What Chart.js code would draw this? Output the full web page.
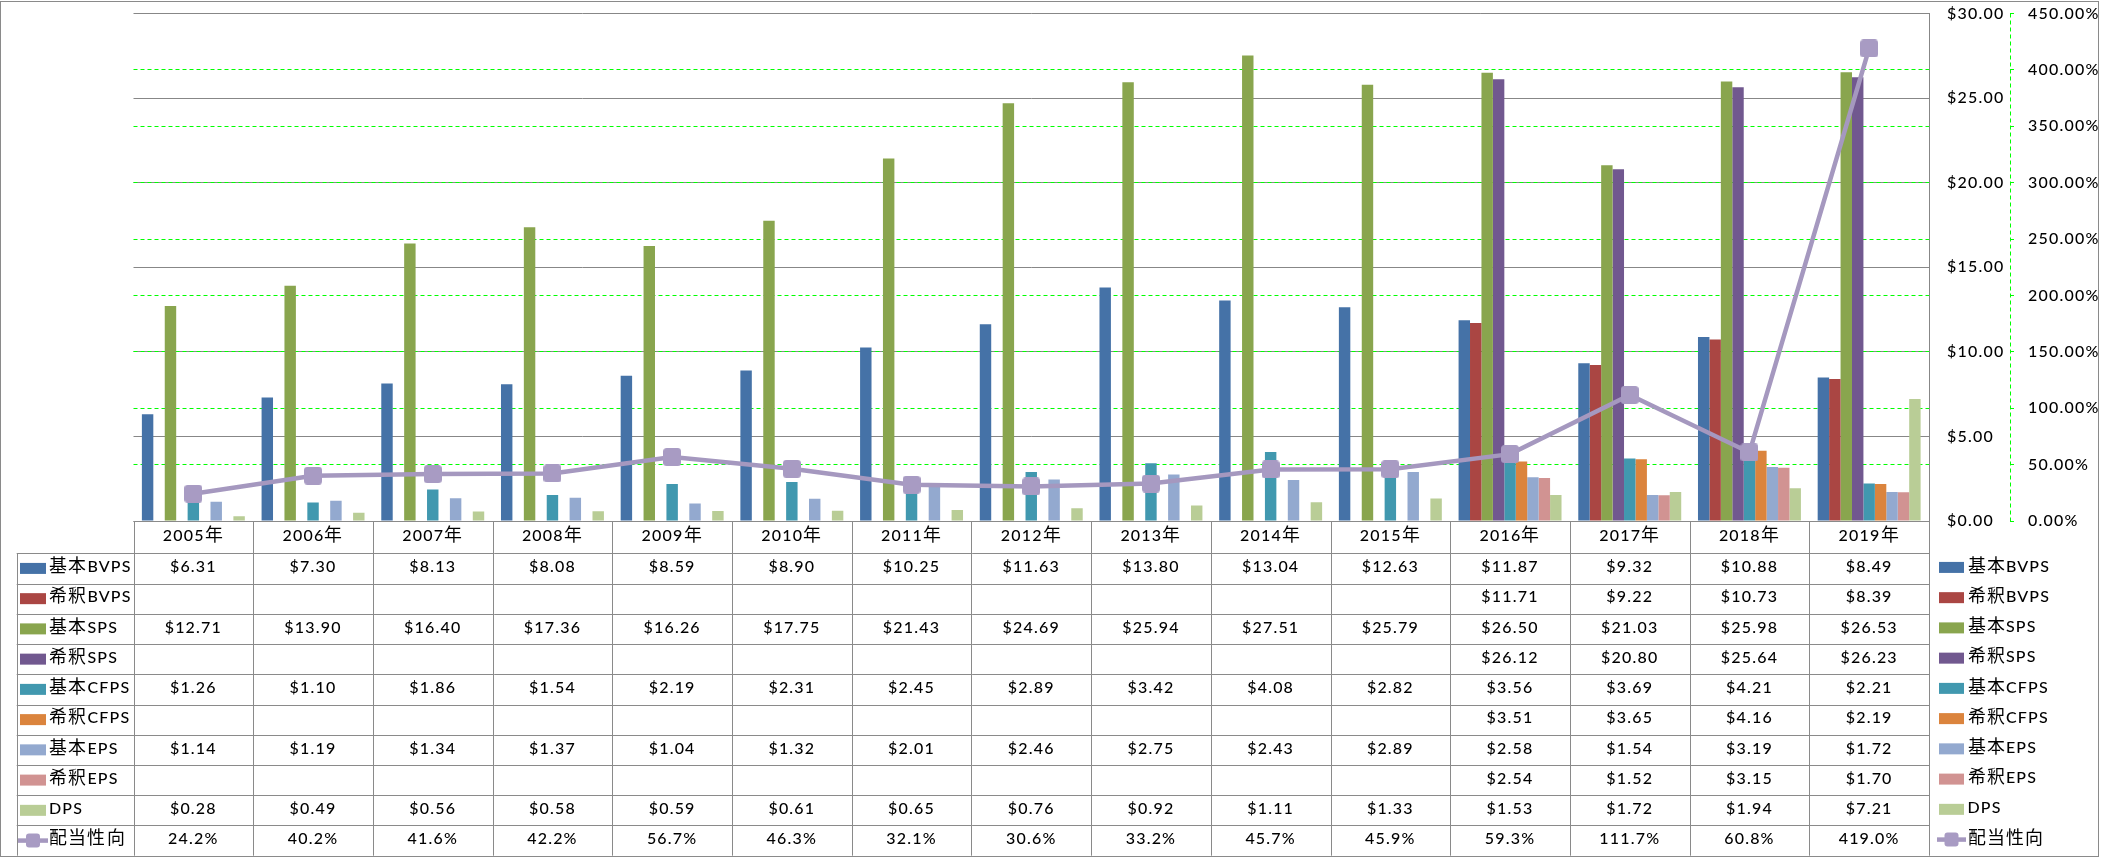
<!DOCTYPE html>
<html>
<head>
<meta charset="utf-8">
<script src="https://cdn.jsdelivr.net/npm/chart.js@4.4.1/dist/chart.umd.min.js"></script>
<style>
@font-face{
  font-family:'CJKJP';
  src:local('Noto Sans CJK JP'),local('Noto Sans CJK JP Regular'),local('NotoSansCJKjp-Regular');
  size-adjust:112%;
  unicode-range:U+2E80-9FFF,U+F900-FAFF,U+FF00-FFEF;
}
html,body{margin:0;padding:0;background:#fff;overflow:hidden}
canvas{display:block}
</style>
</head>
<body>
<canvas id="c" width="2101" height="858"></canvas>
<script>
// ---------- data ----------
const categories = ['2005年','2006年','2007年','2008年','2009年','2010年','2011年','2012年','2013年','2014年','2015年','2016年','2017年','2018年','2019年'];
const basicBVPS   = [6.31,7.30,8.13,8.08,8.59,8.90,10.25,11.63,13.80,13.04,12.63,11.87,9.32,10.88,8.49];
const dilutedBVPS = [null,null,null,null,null,null,null,null,null,null,null,11.71,9.22,10.73,8.39];
const basicSPS    = [12.71,13.90,16.40,17.36,16.26,17.75,21.43,24.69,25.94,27.51,25.79,26.50,21.03,25.98,26.53];
const dilutedSPS  = [null,null,null,null,null,null,null,null,null,null,null,26.12,20.80,25.64,26.23];
const basicCFPS   = [1.26,1.10,1.86,1.54,2.19,2.31,2.45,2.89,3.42,4.08,2.82,3.56,3.69,4.21,2.21];
const dilutedCFPS = [null,null,null,null,null,null,null,null,null,null,null,3.51,3.65,4.16,2.19];
const basicEPS    = [1.14,1.19,1.34,1.37,1.04,1.32,2.01,2.46,2.75,2.43,2.89,2.58,1.54,3.19,1.72];
const dilutedEPS  = [null,null,null,null,null,null,null,null,null,null,null,2.54,1.52,3.15,1.70];
const DPS         = [0.28,0.49,0.56,0.58,0.59,0.61,0.65,0.76,0.92,1.11,1.33,1.53,1.72,1.94,7.21];
const payoutRatio = [24.2,40.2,41.6,42.2,56.7,46.3,32.1,30.6,33.2,45.7,45.9,59.3,111.7,60.8,419.0];

const barNames  = ['基本BVPS','希釈BVPS','基本SPS','希釈SPS','基本CFPS','希釈CFPS','基本EPS','希釈EPS','DPS'];
const lineName  = '配当性向';
const dollarTickValues  = [0,5,10,15,20,25,30];
const percentTickValues = [0,50,100,150,200,250,300,350,400,450];

// ---------- styles ----------
const barColors = ['#4572A7','#AA4643','#89A54E','#71588F','#4198AF','#DB843D','#93A9CF','#D19392','#B9CD96'];
const lineColor = '#A598BF';
const markerColor = '#A89BC3';
const FONT = 'Lato, CJKJP, "Noto Sans CJK JP", sans-serif';
const FONT_SIZE = 16;
const FONT_WEIGHT = '500';
const LETTER_SPACING = '1.2px';
const GRID_GRAY = '#878787';
const TABLE_GRAY = '#8a8a8a';

const barSeries = [basicBVPS, dilutedBVPS, basicSPS, dilutedSPS, basicCFPS, dilutedCFPS, basicEPS, dilutedEPS, DPS];

function makeMarker(size, r){
  const c = document.createElement('canvas');
  c.width = size; c.height = size;
  const g = c.getContext('2d');
  g.fillStyle = markerColor;
  g.beginPath();
  g.roundRect(0, 0, size, size, r);
  g.fill();
  return c;
}

function fmtDollar(v){ return '$' + v.toFixed(2); }
function fmtPct(v){ return v.toFixed(1) + '%'; }

function drawKey(ctx, row, x, cy, w){
  if (row.line) {
    ctx.strokeStyle = lineColor;
    ctx.lineWidth = 4.5;
    ctx.beginPath(); ctx.moveTo(x - 2, cy); ctx.lineTo(x + w + 2, cy); ctx.stroke();
    ctx.fillStyle = markerColor;
    ctx.beginPath(); ctx.roundRect(x + w/2 - 7, cy - 7, 14, 14, 3); ctx.fill();
  } else {
    ctx.fillStyle = row.color;
    ctx.fillRect(x, cy - 5.5, w, 11);
  }
}

const spacingPlugin = {
  id: 'spacing',
  beforeDraw(chart){ chart.ctx.letterSpacing = LETTER_SPACING; }
};

const tablePlugin = {
  id: 'dataTable',
  afterDraw(chart){
    const ctx = chart.ctx;
    const area = chart.chartArea;
    const xs = chart.scales.x;
    const y1s = chart.scales.y1;
    ctx.save();
    ctx.letterSpacing = LETTER_SPACING;

    // dashed green secondary axis line
    ctx.strokeStyle = '#00ff00';
    ctx.lineWidth = 1;
    ctx.setLineDash([4,3]);
    const ax = Math.round(y1s.left) + 0.5;
    ctx.beginPath(); ctx.moveTo(ax, area.top); ctx.lineTo(ax, area.bottom); ctx.stroke();
    ctx.setLineDash([]);

    const n = categories.length;
    const half = (xs.getPixelForValue(1) - xs.getPixelForValue(0)) / 2;
    const edges = [];
    for (let i = 0; i <= n; i++) edges.push(i < n ? xs.getPixelForValue(i) - half : xs.getPixelForValue(n-1) + half);

    const headTop = area.bottom;
    const headH = 32.3;
    const rowH = 30.24;
    const labelLeft = 16.7;
    const rows = barNames.map((nm, i) => ({name: nm, data: barSeries[i], color: barColors[i], fmt: fmtDollar, line: false}));
    rows.push({name: lineName, data: payoutRatio, color: lineColor, fmt: fmtPct, line: true});
    const bodyTop = headTop + headH;
    const bottom = bodyTop + rows.length * rowH;

    ctx.strokeStyle = TABLE_GRAY;
    ctx.lineWidth = 1;
    const px = v => Math.round(v) + 0.5;
    ctx.beginPath();
    ctx.moveTo(edges[0], px(headTop)); ctx.lineTo(edges[n], px(headTop));
    for (let r = 0; r <= rows.length; r++) {
      const yy = px(bodyTop + r * rowH);
      ctx.moveTo(labelLeft, yy); ctx.lineTo(edges[n], yy);
    }
    ctx.moveTo(px(labelLeft), bodyTop); ctx.lineTo(px(labelLeft), bottom);
    for (let i = 0; i <= n; i++) {
      ctx.moveTo(px(edges[i]), headTop); ctx.lineTo(px(edges[i]), bottom);
    }
    ctx.stroke();

    ctx.fillStyle = '#000';
    ctx.font = FONT_WEIGHT + ' ' + FONT_SIZE + 'px ' + FONT;
    ctx.textBaseline = 'middle';
    ctx.textAlign = 'center';
    for (let i = 0; i < n; i++) {
      ctx.fillText(categories[i], (edges[i] + edges[i+1]) / 2, headTop + headH / 2 - 1);
    }
    rows.forEach((row, r) => {
      const cy = bodyTop + r * rowH + rowH / 2;
      ctx.textAlign = 'center';
      ctx.fillStyle = '#000';
      for (let i = 0; i < n; i++) {
        const v = row.data[i];
        if (v === null || v === undefined) continue;
        ctx.fillText(row.fmt(v), (edges[i] + edges[i+1]) / 2, cy - 1.5);
      }
      drawKey(ctx, row, 20, cy, 26);
      ctx.fillStyle = '#000';
      ctx.textAlign = 'left';
      ctx.fillText(row.name, 49, cy - 1.5);
      drawKey(ctx, row, 1939, cy - 1, 25);
      ctx.fillStyle = '#000';
      ctx.textAlign = 'left';
      ctx.fillText(row.name, 1967.5, cy - 2);
    });

    ctx.strokeStyle = TABLE_GRAY;
    ctx.lineWidth = 1;
    ctx.strokeRect(0.5, 1.5, 2098, 855);
    ctx.restore();
  }
};

function build(){
  const marker = makeMarker(18, 3.5);
  Chart.defaults.font.family = FONT;
  Chart.defaults.font.size = FONT_SIZE;
  Chart.defaults.font.weight = FONT_WEIGHT;
  Chart.defaults.color = '#000';

  const datasets = barSeries.map((d, i) => ({
    type: 'bar',
    label: barNames[i],
    data: d,
    backgroundColor: barColors[i],
    borderWidth: 0,
    yAxisID: 'y',
    order: 1
  }));
  datasets.push({
    type: 'line',
    label: lineName,
    data: payoutRatio,
    yAxisID: 'y1',
    borderColor: lineColor,
    borderWidth: 4.5,
    pointStyle: marker,
    pointRadius: 9,
    pointHoverRadius: 9,
    tension: 0,
    order: 0
  });

  const tickFont = { size: FONT_SIZE, family: FONT, weight: FONT_WEIGHT };

  new Chart(document.getElementById('c'), {
    type: 'bar',
    data: { labels: categories, datasets: datasets },
    options: {
      responsive: false,
      animation: false,
      devicePixelRatio: 1,
      layout: { padding: { left: 133.5, right: 0, top: 13.4, bottom: 337 } },
      plugins: { legend: { display: false }, tooltip: { enabled: false } },
      datasets: { bar: { categoryPercentage: 0.86, barPercentage: 1.0 } },
      scales: {
        x: { display: false, offset: true, grid: { offset: true } },
        y: {
          position: 'right', weight: 0,
          min: 0, max: 30,
          afterBuildTicks(s){ s.ticks = dollarTickValues.map(v => ({value: v})); },
          grid: { color: GRID_GRAY, lineWidth: 1, drawTicks: false },
          border: { display: true, color: GRID_GRAY, width: 1 },
          ticks: { padding: 18, color: '#000', font: tickFont, callback: v => '$' + Number(v).toFixed(2) },
          afterFit(s){ s.width = 81; s.paddingTop = 0; s.paddingBottom = 0; }
        },
        y1: {
          position: 'right', weight: 1,
          min: 0, max: 450,
          afterBuildTicks(s){ s.ticks = percentTickValues.map(v => ({value: v})); },
          grid: {
            color: c => (c.tick && (c.tick.value === 0 || c.tick.value === 450)) ? 'rgba(0,0,0,0)' : '#00ff00',
            tickColor: '#00ff00',
            lineWidth: 1, drawTicks: true, tickLength: 4
          },
          border: { display: false, dash: [4,3] },
          ticks: { padding: 14, color: '#000', font: tickFont, callback: v => Number(v).toFixed(2) + '%' },
          afterFit(s){ s.width = 91; s.paddingTop = 0; s.paddingBottom = 0; }
        }
      }
    },
    plugins: [spacingPlugin, tablePlugin]
  });
}

const fontReady = document.fonts && document.fonts.load
  ? Promise.all([document.fonts.load('16px CJKJP', '年基本希釈配当性向'), document.fonts.load('500 16px Lato', '$0.123456789%')]).catch(() => {})
  : Promise.resolve();
fontReady.then(build, build);
</script>
</body>
</html>
